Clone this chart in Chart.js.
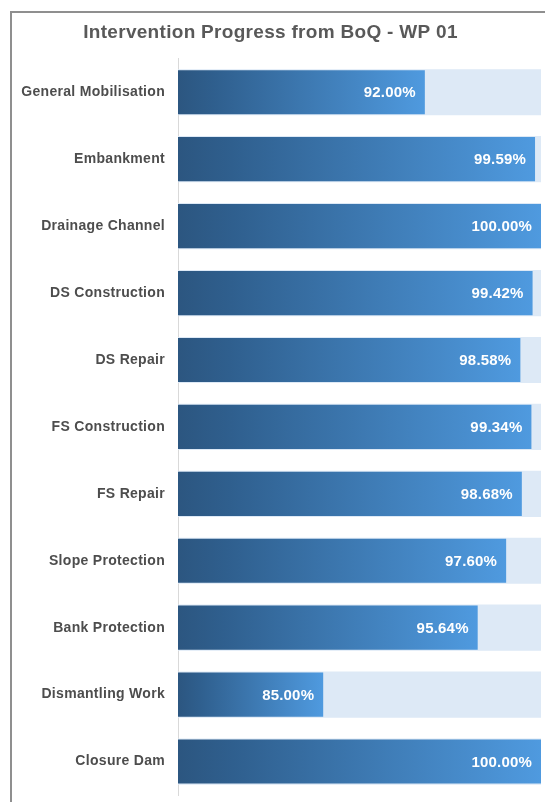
<!DOCTYPE html>
<html>
<head>
<meta charset="utf-8">
<script src="https://cdn.jsdelivr.net/npm/chart.js@4/dist/chart.umd.min.js"></script>
<style>
  html, body { margin: 0; padding: 0; background: #fff; overflow: hidden; }
  #wrap { position: relative; width: 545px; height: 802px; }
  #frame { position: absolute; left: 10px; top: 11px; width: 600px; height: 900px;
           border: 2px solid #8f8f8f; box-sizing: border-box; }
  #chart { position: absolute; left: 0; top: 0; }
</style>
</head>
<body>
<div id="wrap">
  <div id="frame"></div>
  <canvas id="chart" width="545" height="802"></canvas>
</div>
<script>
// Work packages and their completion (% of Bill of Quantities)
const categories = [
  'General Mobilisation', 'Embankment', 'Drainage Channel', 'DS Construction',
  'DS Repair', 'FS Construction', 'FS Repair', 'Slope Protection',
  'Bank Protection', 'Dismantling Work', 'Closure Dam'
];
const progress = [92.00, 99.59, 100.00, 99.42, 98.58, 99.34, 98.68, 97.60, 95.64, 85.00, 100.00];
const fullScope = categories.map(() => 100);
const axisMin = 75;
const axisMax = 100;

// Left-to-right gradient spanning each bar from the axis to its value
function barGradient(context) {
  const chart = context.chart;
  const xScale = chart.scales.x;
  const v = context.raw;
  if (!xScale || typeof v !== 'number') return '#3f7fbf';
  const x0 = xScale.getPixelForValue(axisMin);
  const x1 = xScale.getPixelForValue(v);
  if (!isFinite(x0) || !isFinite(x1) || x1 <= x0) return '#3f7fbf';
  const g = chart.ctx.createLinearGradient(x0, 0, x1, 0);
  g.addColorStop(0, '#2c5680');
  g.addColorStop(0.15, '#2f5f8e');
  g.addColorStop(1, '#4f9adf');
  return g;
}

// Slightly spaced lettering for the category labels and title
const spacing = {
  id: 'spacing',
  beforeLayout(chart) { chart.ctx.letterSpacing = '0.3px'; },
  beforeDraw(chart) { chart.ctx.letterSpacing = '0.3px'; }
};

// Value labels inside the end of each progress bar
const valueLabels = {
  id: 'valueLabels',
  afterDatasetsDraw(chart) {
    const ctx = chart.ctx;
    const meta = chart.getDatasetMeta(0);
    ctx.save();
    ctx.letterSpacing = '0.2px';
    ctx.font = 'bold 15px "Liberation Sans", Arial, sans-serif';
    ctx.fillStyle = '#ffffff';
    ctx.textAlign = 'right';
    ctx.textBaseline = 'middle';
    meta.data.forEach((bar, i) => {
      ctx.fillText(progress[i].toFixed(2) + '%', bar.x - 9, bar.y + 1);
    });
    ctx.restore();
  }
};

new Chart(document.getElementById('chart'), {
  type: 'bar',
  data: {
    labels: categories,
    datasets: [
      {
        label: 'Progress',
        data: progress,
        backgroundColor: barGradient,
        borderWidth: 0,
        barPercentage: 0.66,
        categoryPercentage: 1,
        grouped: false,
        order: 0
      },
      {
        label: 'Scope',
        data: fullScope,
        backgroundColor: '#dde9f6',
        borderWidth: 0,
        barPercentage: 0.69,
        categoryPercentage: 1,
        grouped: false,
        order: 1
      }
    ]
  },
  options: {
    indexAxis: 'y',
    responsive: false,
    animation: false,
    devicePixelRatio: 1,
    layout: { padding: { left: 0, right: 4, top: 0, bottom: 7 } },
    plugins: {
      legend: { display: false },
      tooltip: { enabled: false },
      title: {
        display: true,
        text: 'Intervention Progress from BoQ - WP 01',
        color: '#595959',
        font: { family: '"Liberation Sans", Arial, sans-serif', size: 19, weight: 'bold', lineHeight: 1.2 },
        padding: { top: 21, bottom: 15 }
      }
    },
    scales: {
      x: {
        display: false,
        min: axisMin,
        max: axisMax
      },
      y: {
        grid: { display: false, drawTicks: true, tickLength: 13 },
        border: { display: true, color: '#d9d9d9', width: 1 },
        ticks: {
          color: '#4d4d4d',
          padding: 0,
          font: { family: '"Liberation Sans", Arial, sans-serif', size: 14, weight: 'bold', lineHeight: 1 }
        },
        afterFit(scale) { scale.width = 178; }
      }
    }
  },
  plugins: [spacing, valueLabels]
});
</script>
</body>
</html>
